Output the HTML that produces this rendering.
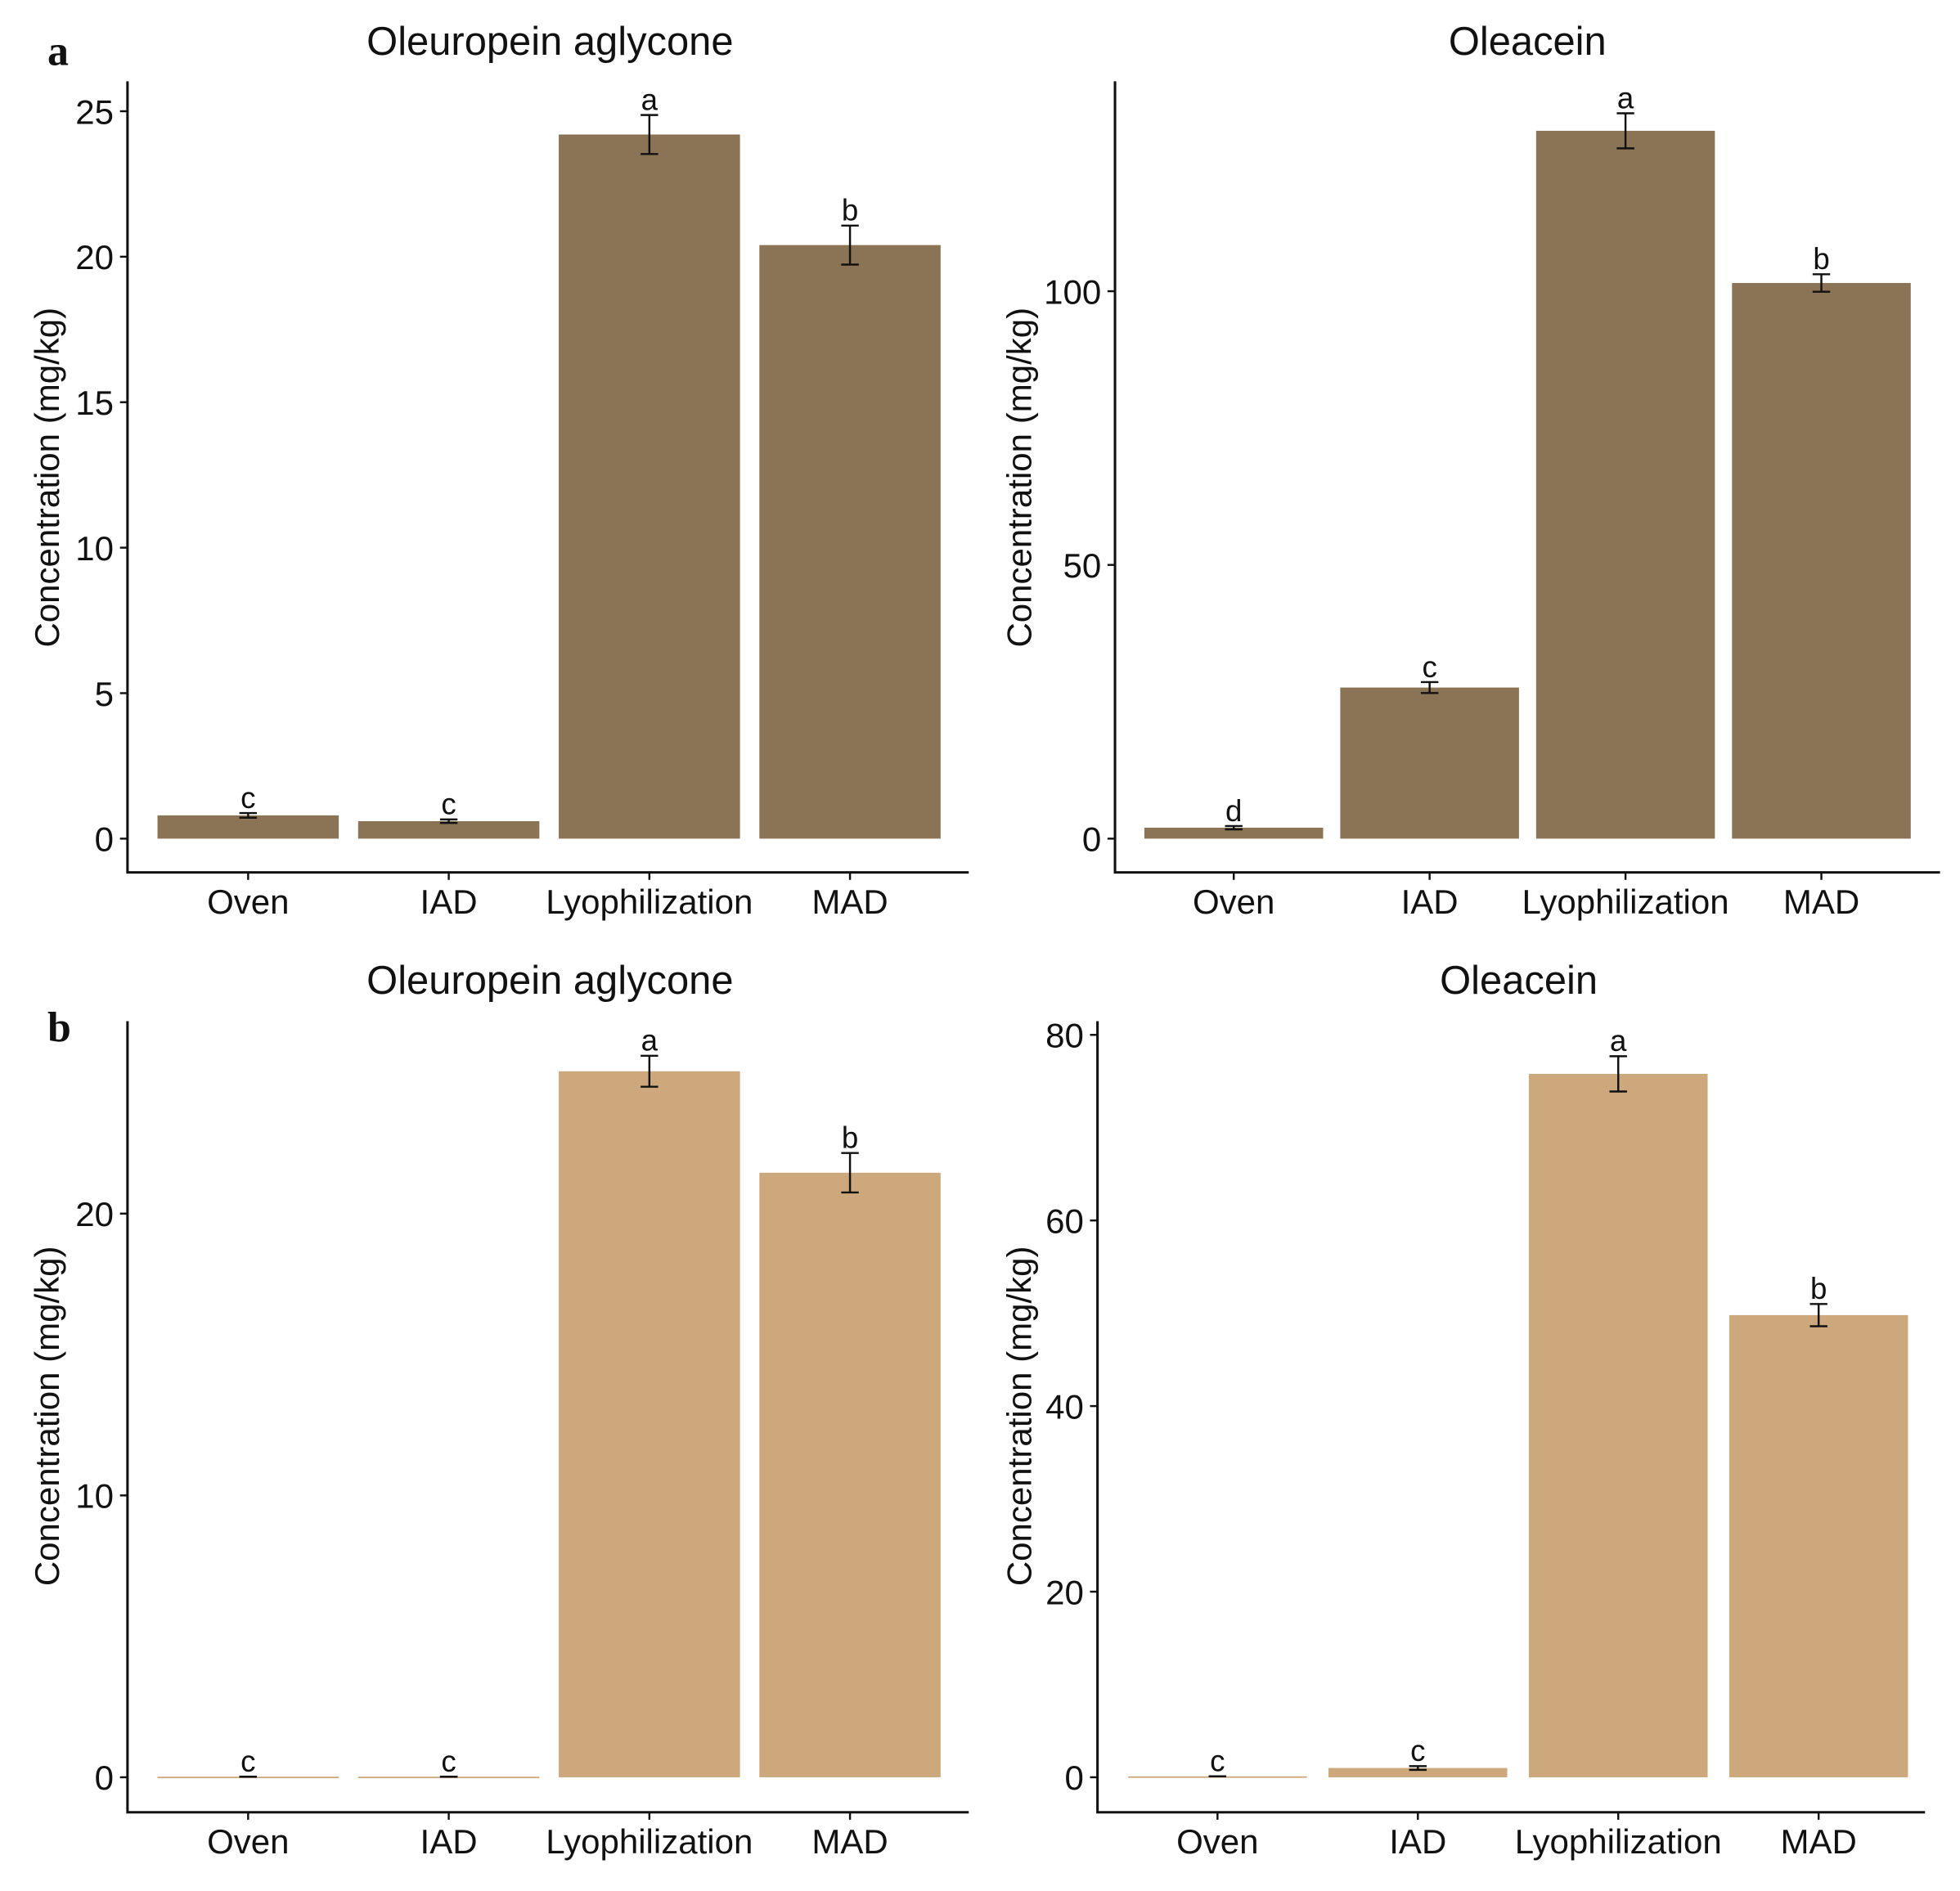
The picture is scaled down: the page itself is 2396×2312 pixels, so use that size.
<!DOCTYPE html>
<html><head><meta charset="utf-8"><style>
html,body{margin:0;padding:0;background:#fff;}
svg{display:block;}
text{font-family:"Liberation Sans",Arial,sans-serif;fill:#111;}
</style></head><body>
<svg id="c" width="2396" height="2312" viewBox="0 0 1568 1513" preserveAspectRatio="none" xmlns="http://www.w3.org/2000/svg">
<text x="38" y="52" style="font-family:'Liberation Serif',serif;font-weight:bold;font-size:34px">a</text>
<text x="38" y="833" style="font-family:'Liberation Serif',serif;font-weight:bold;font-size:34px">b</text>
</svg>
<script>
const categories = ["Oven","IAD","Lyophilization","MAD"];
const aOleuropeinValues = [0.8, 0.6, 24.2, 20.4];
const aOleuropeinErrors = [0.08, 0.06, 0.67, 0.67];
const aOleuropeinLetters = ["c","c","a","b"];
const aOleuropeinTicks = [0,5,10,15,20,25];
const aOleaceinValues = [2.0, 27.6, 129.3, 101.5];
const aOleaceinErrors = [0.3, 1.0, 3.2, 1.6];
const aOleaceinLetters = ["d","c","a","b"];
const aOleaceinTicks = [0,50,100];
const bOleuropeinValues = [0.02, 0.02, 25.05, 21.45];
const bOleuropeinErrors = [0, 0, 0.55, 0.7];
const bOleuropeinLetters = ["c","c","a","b"];
const bOleuropeinTicks = [0,10,20];
const bOleaceinValues = [0.1, 1.0, 75.8, 49.8];
const bOleaceinErrors = [0, 0.2, 1.9, 1.2];
const bOleaceinLetters = ["c","c","a","b"];
const bOleaceinTicks = [0,20,40,60,80];

const NS="http://www.w3.org/2000/svg";
const svg=document.getElementById('c');
function mk(tag,attrs,parent){const e=document.createElementNS(NS,tag);for(const k in attrs)e.setAttribute(k,attrs[k]);(parent||svg).appendChild(e);return e;}

function panel(cfg,vals,errs,letters,ticks){
  const g=mk('g',{});
  
  
  const y=v=>cfg.y0-(v-0)*cfg.ppu;
  const step=cfg.step, x=i=>cfg.cx0+i*step;
  vals.forEach((v,i)=>{
    const r=mk('rect',{x:x(i)-cfg.bw/2,y:y(v),width:cfg.bw,height:Math.max(cfg.y0-y(v),1.2),fill:cfg.color},g);
    
    
    const e=errs[i];
    const eg=mk('g',{stroke:'#111','stroke-width':1.6,fill:'none'},g);
    
    
    mk('line',{x1:x(i),x2:x(i),y1:y(v+e),y2:y(v-e)},eg);
    mk('line',{x1:x(i)-7,x2:x(i)+7,y1:y(v+e),y2:y(v+e)},eg);
    mk('line',{x1:x(i)-7,x2:x(i)+7,y1:y(v-e),y2:y(v-e)},eg);
    const t=mk('text',{x:x(i),y:y(v+e)-4,'text-anchor':'middle','font-size':24},g);
    t.textContent=letters[i];
    
    
    const xl=mk('text',{x:x(i),y:cfg.axisY+33,'text-anchor':'middle','font-size':27.5},g);
    xl.textContent=categories[i];
    
    
    mk('line',{x1:x(i),x2:x(i),y1:cfg.axisY,y2:cfg.axisY+6,stroke:'#111','stroke-width':1.6},g);
  });
  const ax=mk('path',{d:`M${cfg.ax},${cfg.top} V${cfg.axisY} H${cfg.right}`,stroke:'#111','stroke-width':2,fill:'none'},g);
  
  
  ticks.forEach(tv=>{
    mk('line',{x1:cfg.ax-6,x2:cfg.ax,y1:y(tv),y2:y(tv),stroke:'#111','stroke-width':1.6},g);
    const t=mk('text',{x:cfg.ax-11,y:y(tv)+10,'text-anchor':'end','font-size':27.5},g);
    t.textContent=tv;
    
    
  });
  const yt=mk('text',{x:0,y:0,'text-anchor':'middle','font-size':27.5,transform:`translate(${cfg.ytx},${cfg.yty}) rotate(-90)`},g);
  yt.textContent='Concentration (mg/kg)';
  
  
  const tt=mk('text',{x:cfg.tx,y:cfg.ty,'text-anchor':'middle','font-size':32},g);
  tt.textContent=cfg.title;
  
  
}
const dark='#8B7455', light='#CDA87C';
panel({name:'panel-a-oleuropein',title:'Oleuropein aglycone',tx:440,ty:44,color:dark,y0:671,ppu:23.28,cx0:198.5,step:160.5,bw:145,ax:102,top:65,axisY:698,right:775,ytx:47,yty:382},aOleuropeinValues,aOleuropeinErrors,aOleuropeinLetters,aOleuropeinTicks);
panel({name:'panel-a-oleacein',title:'Oleacein',tx:1222,ty:44,color:dark,y0:671,ppu:4.38,cx0:987,step:156.7,bw:143,ax:892,top:65,axisY:698,right:1552,ytx:825,yty:382},aOleaceinValues,aOleaceinErrors,aOleaceinLetters,aOleaceinTicks);
panel({name:'panel-b-oleuropein',title:'Oleuropein aglycone',tx:440,ty:795,color:light,y0:1422,ppu:22.55,cx0:198.5,step:160.5,bw:145,ax:102,top:817,axisY:1450,right:775,ytx:47,yty:1133},bOleuropeinValues,bOleuropeinErrors,bOleuropeinLetters,bOleuropeinTicks);
panel({name:'panel-b-oleacein',title:'Oleacein',tx:1215,ty:795,color:light,y0:1422,ppu:7.425,cx0:974,step:160.3,bw:143,ax:878,top:817,axisY:1450,right:1540,ytx:825,yty:1133},bOleaceinValues,bOleaceinErrors,bOleaceinLetters,bOleaceinTicks);
</script>
</body></html>
